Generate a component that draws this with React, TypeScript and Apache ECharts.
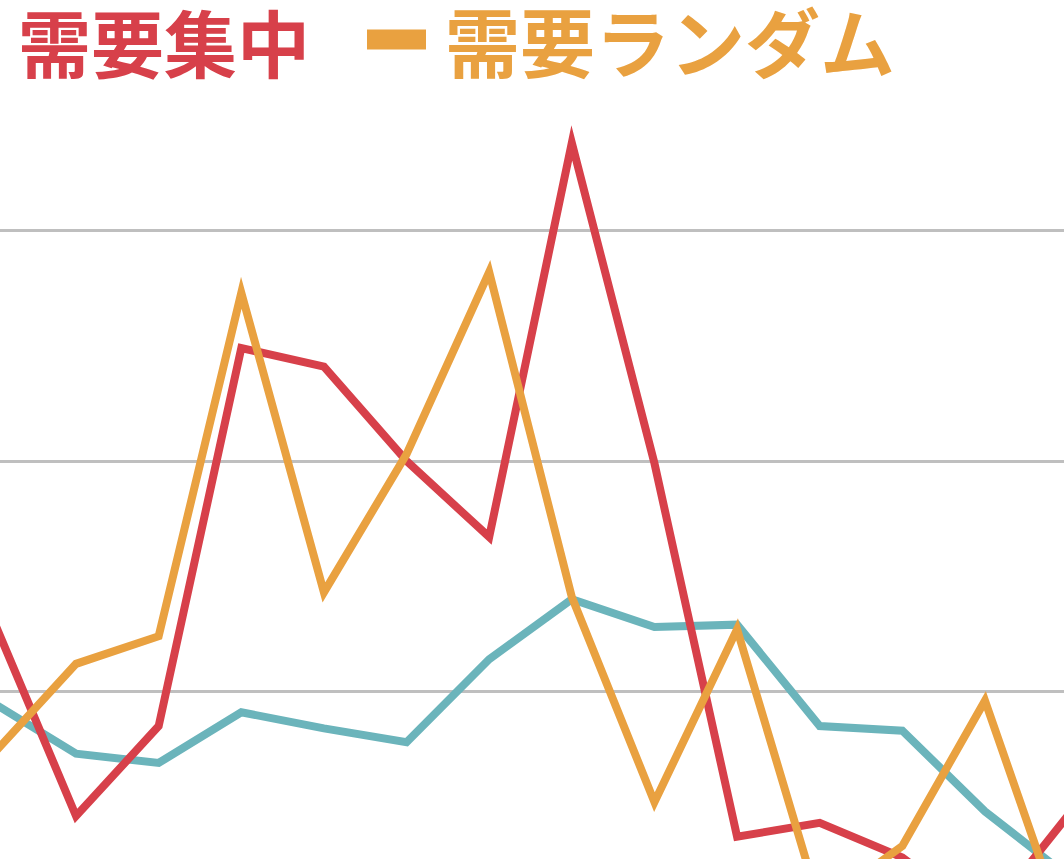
import React, { useEffect, useRef } from "react";
import * as echarts from "echarts";

const categories = ["1", "2", "3", "4", "5", "6", "7", "8", "9", "10", "11", "12", "13", "14"];
const concentrated = [13.1, 4.6, 8.5, 24.9, 24.1, 20.0, 16.7, 33.8, 19.9, 3.7, 4.3, 2.8, 0.1, 4.6];
const randomDemand = [7.3, 11.2, 12.4, 27.3, 14.3, 20.3, 28.2, 14.1, 5.2, 12.7, 0.7, 3.3, 9.6, -0.7];
const dispersed = [9.5, 7.3, 6.9, 9.1, 8.4, 7.8, 11.4, 14.0, 12.8, 12.9, 8.5, 8.3, 4.8, 2.0];
const legendNames = ["需要集中", "需要ランダム"];
const seriesNames = ["需要集中", "需要ランダム", "需要分散"];

const RED = "#d7404a";
const ORANGE = "#e9a140";
const TEAL = "#6bb4bb";

export default function App() {
  const ref = useRef<HTMLDivElement>(null);
  useEffect(() => {
    if (!ref.current) return;
    const chart = echarts.init(ref.current, undefined, { renderer: "svg" });
    const lineStyle = (color: string) => ({
      color,
      width: 8,
      join: "miter" as const,
      miterLimit: 30,
      cap: "butt" as const,
    });
    chart.setOption({
      animation: false,
      backgroundColor: "#ffffff",
      legend: {
        data: [
          { name: legendNames[0], textStyle: { color: RED } },
          { name: legendNames[1], textStyle: { color: ORANGE, fontSize: 75 } },
        ],
        left: 35,
        top: -3,
        icon: "rect",
        itemWidth: 59,
        itemHeight: 20,
        itemGap: 57,
        selectedMode: false,
        textStyle: {
          fontSize: 73,
          fontWeight: "bold",
          fontFamily: "Noto Sans CJK JP",
          padding: [0, 0, 0, 14],
        },
      },
      grid: { left: 93.4, right: 96.4, top: 46.1, bottom: 47.5, containLabel: false },
      xAxis: {
        type: "category",
        data: categories,
        boundaryGap: false,
        axisLine: { show: false },
        axisTick: { show: false },
        axisLabel: { show: false },
      },
      yAxis: {
        type: "value",
        min: -10,
        max: 38,
        interval: 10,
        axisLine: { show: false },
        axisTick: { show: false },
        axisLabel: { show: false },
        splitLine: {
          show: true,
          showMaxLine: false,
          lineStyle: { color: "#bfbfbf", width: 3 },
        },
      },
      series: [
        {
          name: seriesNames[2],
          type: "line",
          data: dispersed,
          symbol: "none",
          lineStyle: lineStyle(TEAL),
          itemStyle: { color: TEAL },
        },
        {
          name: seriesNames[0],
          type: "line",
          data: concentrated,
          symbol: "none",
          lineStyle: lineStyle(RED),
          itemStyle: { color: RED },
        },
        {
          name: seriesNames[1],
          type: "line",
          data: randomDemand,
          symbol: "none",
          lineStyle: lineStyle(ORANGE),
          itemStyle: { color: ORANGE },
        },
      ],
    });
    return () => chart.dispose();
  }, []);
  return (
    <div
      style={{
        position: "fixed",
        left: 0,
        top: 0,
        width: 1064,
        height: 859,
        overflow: "hidden",
        background: "#fff",
      }}
    >
      <div
        ref={ref}
        style={{ position: "absolute", left: -100, top: 0, width: 1264, height: 1200 }}
      />
    </div>
  );
}
